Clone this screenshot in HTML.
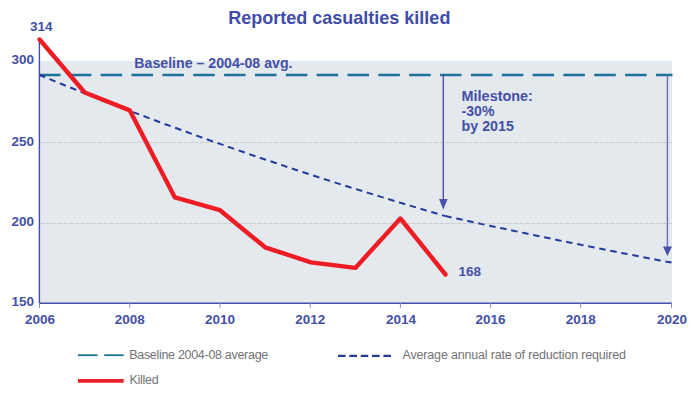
<!DOCTYPE html>
<html>
<head>
<meta charset="utf-8">
<style>
html,body{margin:0;padding:0;background:#fff;width:692px;height:394px;overflow:hidden}
svg{display:block}
text{font-family:"Liberation Sans",sans-serif}
.b{font-weight:bold;fill:#4350a8}
.lg{font-size:12.5px;fill:#717276}
</style>
</head>
<body>
<svg width="692" height="394" viewBox="0 0 692 394">
  <!-- title -->
  <text class="b" x="228.2" y="23.6" font-size="19" textLength="222.2" lengthAdjust="spacingAndGlyphs" style="fill:#3f4ca9">Reported casualties killed</text>

  <!-- plot background -->
  <rect x="40" y="61" width="632" height="242.3" fill="#e4e9ee"/>


  <!-- baseline -->
  <line x1="39" y1="75" x2="672.5" y2="75" stroke="#1c7299" stroke-width="2.4" stroke-dasharray="21.5 9.35"/>

  <!-- reduction line -->
  <polyline points="39.6,75.0 50.9,79.7 62.2,84.3 73.4,88.8 84.7,93.3 96.0,97.8 107.2,102.2 118.5,106.5 129.8,110.9 141.1,115.1 152.3,119.4 163.6,123.6 174.9,127.7 186.2,131.8 197.4,135.9 208.7,140.0 220.0,143.9 231.3,147.9 242.6,151.8 253.8,155.7 265.1,159.5 276.4,163.3 287.7,167.1 298.9,170.8 310.2,174.5 321.5,178.2 332.8,181.8 344.0,185.4 355.3,188.9 366.6,192.4 377.9,195.9 389.1,199.3 400.4,202.8 411.7,206.1 423.0,209.5 434.2,212.8 445.5,216.1" fill="none" stroke="#233c9b" stroke-width="2.0" stroke-dasharray="6.5 4.735" stroke-dashoffset="0.6"/>
  <polyline points="445.5,216.1 456.8,218.6 468.1,221.0 479.3,223.5 490.6,225.9 501.9,228.3 513.1,230.7 524.4,233.1 535.7,235.5 547.0,237.8 558.2,240.2 569.5,242.5 580.8,244.8 592.1,247.1 603.4,249.3 614.6,251.6 625.9,253.8 637.2,256.0 648.5,258.2 659.7,260.4 671.5,262.6" fill="none" stroke="#233c9b" stroke-width="2.0" stroke-dasharray="6.5 4.740" stroke-dashoffset="0.25"/>

  <!-- milestone arrows -->
  <line x1="443.3" y1="75" x2="443.3" y2="201" stroke="#4a52a8" stroke-width="1.4"/>
  <polygon points="439,199 447.6,199 443.3,209.5" fill="#4a52a8"/>
  <line x1="667.4" y1="75" x2="667.4" y2="248" stroke="#6a6eb6" stroke-width="1.4"/>
  <polygon points="663,246.5 672,246.5 667.4,256" fill="#4a52a8"/>

  <!-- axes -->
  <line x1="39.4" y1="39.5" x2="39.4" y2="303.5" stroke="#4350a8" stroke-width="1.4"/>
  <line x1="39" y1="303.3" x2="672" y2="303.3" stroke="#4350a8" stroke-width="1.5"/>
  <g stroke="#8a8fc6" stroke-width="1">
    <line x1="39.5" y1="303" x2="39.5" y2="308"/>
    <line x1="129.8" y1="303" x2="129.8" y2="308"/>
    <line x1="220" y1="303" x2="220" y2="308"/>
    <line x1="310.2" y1="303" x2="310.2" y2="308"/>
    <line x1="400.4" y1="303" x2="400.4" y2="308"/>
    <line x1="490.6" y1="303" x2="490.6" y2="308"/>
    <line x1="580.8" y1="303" x2="580.8" y2="308"/>
    <line x1="671.5" y1="303" x2="671.5" y2="308"/>
  </g>

  <!-- killed line -->
  <polyline points="39.6,39.5 84.7,92.5 129.8,110.4 174.9,197.4 220.0,210.2 265.1,247.3 311.0,262.4 355.3,267.9 400.4,218.5 445.5,274.5" fill="none" stroke="#ee1c25" stroke-width="4.4" stroke-linejoin="round" stroke-linecap="round"/>
  <!-- gridlines -->
  <g stroke="rgba(114,118,124,0.25)" stroke-width="1" stroke-dasharray="4.4 1.3">
    <line x1="40.5" y1="142.5" x2="672" y2="142.5"/>
    <line x1="40.5" y1="223.5" x2="672" y2="223.5"/>
  </g>

  <!-- annotations -->
  <text class="b" x="134.3" y="68.2" font-size="14" textLength="158.2" lengthAdjust="spacingAndGlyphs">Baseline – 2004-08 avg.</text>
  <text class="b" x="461.6" y="100.6" font-size="14" textLength="71.3" lengthAdjust="spacingAndGlyphs">Milestone:</text>
  <text class="b" x="461.6" y="115.6" font-size="14" textLength="32.9" lengthAdjust="spacingAndGlyphs">-30%</text>
  <text class="b" x="461.6" y="130.6" font-size="14" textLength="52.2" lengthAdjust="spacingAndGlyphs">by 2015</text>
  <text class="b" x="458.4" y="275.9" font-size="13.5" textLength="22.6" lengthAdjust="spacing">168</text>
  <text class="b" x="41.3" y="31" font-size="13.5" text-anchor="middle">314</text>

  <!-- y labels -->
  <g class="b" font-size="13.5" text-anchor="end">
    <text x="34" y="64.0">300</text>
    <text x="34" y="145.7">250</text>
    <text x="34" y="226.2">200</text>
    <text x="34" y="306.3">150</text>
  </g>
  <!-- x labels -->
  <g class="b" font-size="13.5" text-anchor="middle">
    <text x="39.9" y="323.9">2006</text>
    <text x="129.8" y="323.9">2008</text>
    <text x="220" y="323.9">2010</text>
    <text x="310.2" y="323.9">2012</text>
    <text x="401" y="323.9">2014</text>
    <text x="490.6" y="323.9">2016</text>
    <text x="580.8" y="323.9">2018</text>
    <text x="672" y="323.9">2020</text>
  </g>

  <!-- legend -->
  <line x1="78" y1="355.2" x2="97.5" y2="355.2" stroke="#1c7299" stroke-width="1.8"/>
  <line x1="104.2" y1="355.2" x2="123.7" y2="355.2" stroke="#1c7299" stroke-width="1.8"/>
  <text class="lg" x="129.2" y="358.6" letter-spacing="-0.3">Baseline 2004-08 average</text>
  <line x1="338" y1="355.9" x2="391" y2="355.9" stroke="#233c9b" stroke-width="2.2" stroke-dasharray="7.6 3.75"/>
  <text class="lg" x="402.6" y="358.9" letter-spacing="-0.18">Average annual rate of reduction required</text>
  <line x1="78" y1="380.8" x2="123.7" y2="380.8" stroke="#e8202a" stroke-width="3.8"/>
  <text class="lg" x="129.4" y="383.8" letter-spacing="-0.25">Killed</text>
</svg>
</body>
</html>
